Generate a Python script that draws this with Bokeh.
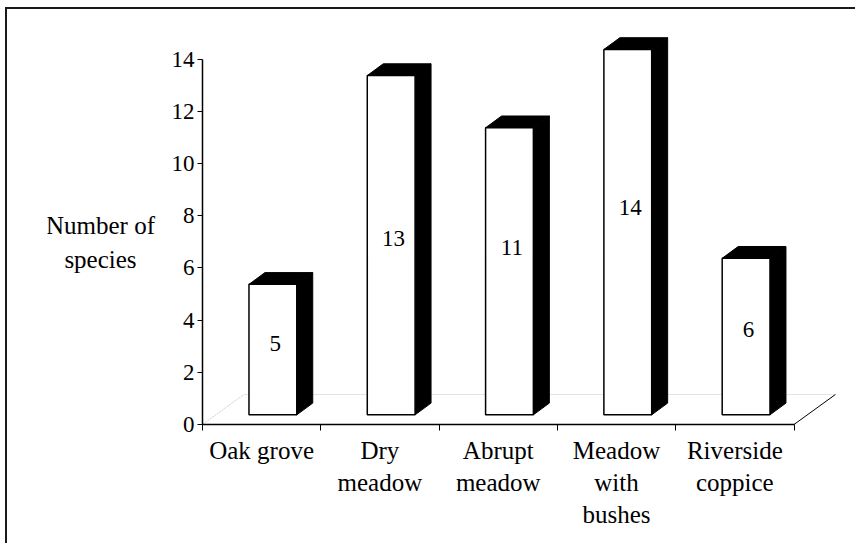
from bokeh.plotting import figure
from bokeh.models import Range1d, LinearAxis, FixedTicker
from bokeh.embed import file_html
from bokeh.resources import INLINE
from bokeh.core.properties import value

# ---- data ----
categories = ["Oak grove", "Dry meadow", "Abrupt meadow", "Meadow with bushes", "Riverside coppice"]
category_labels = ["Oak grove", "Dry\nmeadow", "Abrupt\nmeadow", "Meadow\nwith\nbushes", "Riverside\ncoppice"]
species = [5, 13, 11, 14, 6]
y_ticks = [0, 2, 4, 6, 8, 10, 12, 14]
y_title = "Number of\nspecies"

# ---- style / 3D geometry (data units) ----
FONT = "Liberation Serif"
BAR_LEFT = 0.393
BAR_WIDTH = 0.404
BAR_LIFT = 0.37
DEPTH_X = 0.135
DEPTH_Y = 0.45
FLOOR_X = 0.35
FLOOR_Y = 1.15
LABEL_DX = 0.02
LABEL_DY = [0.22, 0.27, 0.92, 0.94, 0.27]
X_START = -1.310          # room on the left for the horizontal y title
Y_START = -4.444          # room below for the category labels
TITLE_X, TITLE_Y = -0.862, 6.97

n = len(categories)
W, H = 850, 536

p = figure(width=W, height=H, output_backend="svg", toolbar_location=None,
           x_range=Range1d(X_START, n + 0.393), y_range=Range1d(Y_START, 15.096),
           x_axis_type=None, y_axis_type=None,
           min_border_left=40, min_border_right=17, min_border_top=21, min_border_bottom=5)
p.outline_line_color = None
p.background_fill_color = "white"
p.border_fill_color = "white"
p.styles = {"border-top": "2px solid #1a1a1a", "border-left": "2px solid #1a1a1a",
            "margin-left": "5px", "margin-top": "7px"}

# floor
p.line([FLOOR_X, n + FLOOR_X], [FLOOR_Y, FLOOR_Y], line_color="#e3e3e3", line_width=1)
p.line([0, FLOOR_X], [0, FLOOR_Y], line_color="#d0d0d0", line_width=1, line_dash="2 1")
p.line([n, n + FLOOR_X], [0, FLOOR_Y], line_color="black", line_width=1)

# bars
lefts = [i + BAR_LEFT for i in range(n)]
rights = [l + BAR_WIDTH for l in lefts]
tops = [BAR_LIFT + v for v in species]

side_xs = [[r, r + DEPTH_X, r + DEPTH_X, r] for r in rights]
side_ys = [[BAR_LIFT, BAR_LIFT + DEPTH_Y, t + DEPTH_Y, t] for t in tops]
top_xs = [[l, l + DEPTH_X, r + DEPTH_X, r] for l, r in zip(lefts, rights)]
top_ys = [[t, t + DEPTH_Y, t + DEPTH_Y, t] for t in tops]
p.patches(side_xs, side_ys, fill_color="black", line_color="black", line_width=1)
p.patches(top_xs, top_ys, fill_color="black", line_color="black", line_width=1)
p.quad(left=lefts, right=rights, bottom=BAR_LIFT, top=tops,
       fill_color="white", line_color="black", line_width=1.5)

# value labels
lx = [(l + r) / 2 + LABEL_DX for l, r in zip(lefts, rights)]
ly = [BAR_LIFT + v / 2 + d for v, d in zip(species, LABEL_DY)]
p.text(x=lx, y=ly, text=[str(v) for v in species], text_font=value(FONT),
       text_font_size="23px", text_align="center", text_baseline="middle", text_color="black")

# y title, horizontal, two centred lines
p.text(x=[TITLE_X], y=[TITLE_Y], text=[y_title], text_font=value(FONT),
       text_font_size="25px", text_align="center", text_baseline="middle",
       text_color="black", text_line_height=1.28)

# y axis, placed at x = 0 (the left end of the category axis)
yaxis = LinearAxis(ticker=FixedTicker(ticks=y_ticks, minor_ticks=[]), bounds=(0, 14), fixed_location=0)
yaxis.major_tick_in = 0
yaxis.major_tick_out = 5
yaxis.minor_tick_line_color = None
yaxis.axis_line_width = 1.5
yaxis.major_tick_line_width = 1
yaxis.major_label_text_font = FONT
yaxis.major_label_text_font_size = "23px"
yaxis.major_label_text_color = "black"
yaxis.major_label_standoff = 3
p.add_layout(yaxis, "left")

# x axis, placed at y = 0
centers = [i + 0.5 for i in range(n)]
xaxis = LinearAxis(ticker=FixedTicker(ticks=centers, minor_ticks=list(range(n + 1))), bounds=(0, n),
                   fixed_location=0,
                   major_label_overrides={c: lab for c, lab in zip(centers, category_labels)})
xaxis.major_tick_line_color = None
xaxis.major_tick_in = 0
xaxis.major_tick_out = 0
xaxis.minor_tick_in = 0
xaxis.minor_tick_out = 6
xaxis.minor_tick_line_color = "black"
xaxis.axis_line_width = 1.5
xaxis.major_label_text_font = FONT
xaxis.major_label_text_font_size = "25px"
xaxis.major_label_text_color = "black"
xaxis.major_label_text_align = "center"
xaxis.major_label_standoff = 6
p.add_layout(xaxis, "below")

open("out.html", "w").write(file_html(p, INLINE))
